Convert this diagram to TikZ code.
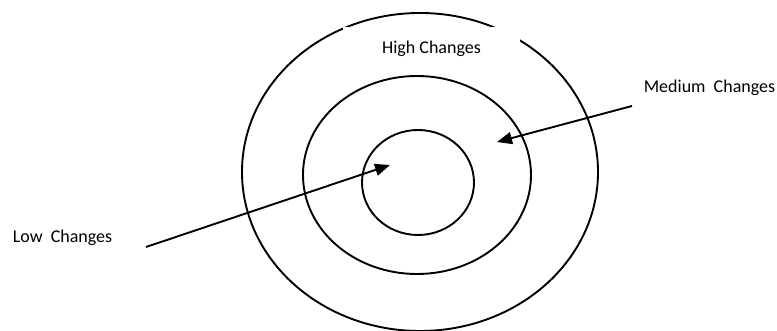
\documentclass[tikz,border=0pt]{standalone}
\usepackage{fontspec}
\setmainfont{Carlito}
\usetikzlibrary{shapes.geometric,arrows.meta}
\tikzset{
    ring/.style={ellipse, draw, line width=1.9pt, inner sep=0pt},
    label/.style={font=\fontsize{18}{20}\selectfont, inner sep=0pt},
    pointer/.style={draw, line width=1.9pt, -{Triangle[length=15pt,width=12pt]}},
}

\begin{document}
\begin{tikzpicture}[x=1pt,y=-1pt]
    \useasboundingbox (0,0) rectangle (777,331);
    \fill[white] (0,0) rectangle (777,331);

    \node[ring, minimum width=356pt, minimum height=318pt] (outer) at (420,172) {};
    \node[ring, minimum width=228pt, minimum height=198pt] (middle) at (417,175) {};
    \node[ring, minimum width=112pt, minimum height=105pt] (inner) at (418,182.5) {};

    % text box covers part of the outer ring
    \node[label, fill=white, minimum width=177pt, minimum height=44pt] (high) at (431.5,49) {High Changes};
    \node[label] (medium) at (709.5,88) {Medium\ \ Changes};
    \node[label] (low) at (62.5,238) {Low\ \ Changes};

    \coordinate (lowstart) at (146,247);
    \coordinate (lowtip) at (390,165);
    \coordinate (medstart) at (632,106);
    \coordinate (medtip) at (497,142);

    \draw[pointer] (lowstart) -- (lowtip);
    \draw[pointer] (medstart) -- (medtip);
\end{tikzpicture}
\end{document}
